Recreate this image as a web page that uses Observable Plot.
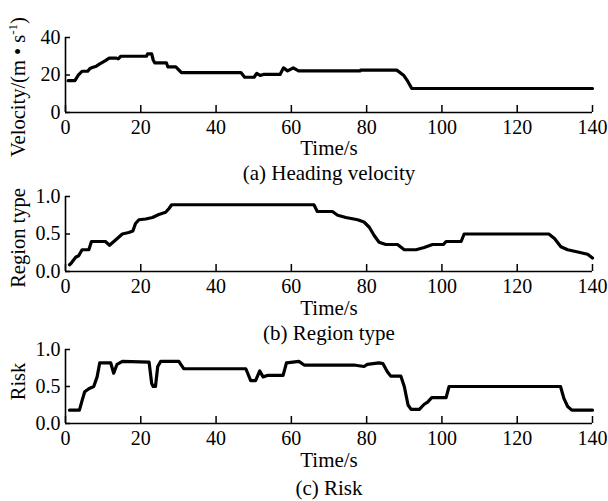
<!DOCTYPE html>
<html>
<head>
<meta charset="utf-8">
<script src="https://cdn.jsdelivr.net/npm/d3@7"></script>
<script src="https://cdn.jsdelivr.net/npm/@observablehq/plot@0.6"></script>
<style>
  html, body { margin: 0; padding: 0; background: #fff; }
  #wrap { position: relative; width: 608px; height: 501px; overflow: hidden; background: #fff; }
  #wrap > svg { position: absolute; left: 0; }
</style>
</head>
<body>
<div id="wrap"></div>
<script>
// ---- tick labels ----
const xTicks = [0, 20, 40, 60, 80, 100, 120, 140];
const velocityTicks = [0, 20, 40];
const unitTicks = [0, 0.5, 1.0];

// ---- (a) heading velocity ----
const velocityTime = [0.7, 2.5, 3.4, 4.4, 5.9, 6.5, 7.1, 8.2, 9.1, 10.5, 11.6, 13.5, 14.0, 14.7, 21.5, 21.8, 22.9, 23.3, 23.7, 26.8, 27.2, 29.3, 30.8, 46.6, 47.6, 50.1, 50.8, 51.7, 52.6, 57.0, 57.9, 59.0, 60.5, 61.9, 78.3, 78.4, 88.0, 89.8, 90.9, 92.0, 140];
const velocityValue = [17, 17, 19.9, 22, 22, 23.5, 24, 24.7, 25.9, 27.5, 29, 29, 28.6, 30, 30, 31.3, 31.3, 28, 26.5, 26.5, 24.3, 24.3, 21.3, 21.3, 18.8, 18.8, 20.9, 19.8, 20.3, 20.3, 23.8, 22.2, 23.8, 22.2, 22.2, 22.6, 22.6, 19.9, 16.7, 12.8, 12.8];

// ---- (b) region type ----
const regionTime = [1.06, 1.5, 2.7, 3.5, 4.4, 6.2, 6.9, 10.6, 11.7, 13.3, 15.1, 16.8, 17.9, 18.6, 19.5, 21.3, 23.1, 24.8, 26.6, 27.5, 28.2, 66.0, 66.9, 70.9, 72.3, 74.5, 77.6, 79.3, 80.7, 82.0, 83.3, 85.1, 88.2, 90.0, 93.1, 95.3, 97.5, 100.4, 101.1, 105.1, 105.9, 128.4, 129.9, 131.6, 133.4, 136.1, 138.7, 140];
const regionValue = [0.09, 0.11, 0.19, 0.21, 0.29, 0.29, 0.40, 0.40, 0.35, 0.42, 0.50, 0.52, 0.54, 0.64, 0.69, 0.70, 0.72, 0.76, 0.79, 0.84, 0.89, 0.89, 0.80, 0.80, 0.75, 0.72, 0.69, 0.66, 0.59, 0.48, 0.39, 0.36, 0.36, 0.29, 0.29, 0.32, 0.36, 0.36, 0.40, 0.40, 0.50, 0.50, 0.44, 0.33, 0.29, 0.26, 0.23, 0.18];

// ---- (c) risk ----
const riskTime = [1.06, 3.7, 4.4, 5.1, 6.2, 7.5, 8.4, 9.1, 12.0, 12.8, 13.7, 15.1, 22.2, 22.9, 23.3, 23.9, 24.5, 25.3, 30.1, 31.4, 47.9, 49.2, 50.5, 51.6, 52.5, 53.6, 57.8, 58.7, 60.4, 62.0, 63.4, 76.6, 79.3, 80.2, 83.3, 84.3, 85.5, 86.4, 89.1, 90.0, 91.0, 91.8, 94.0, 95.3, 96.2, 97.3, 101.1, 101.9, 131.5, 132.4, 133.4, 134.5, 140];
const riskValue = [0.18, 0.18, 0.31, 0.43, 0.47, 0.50, 0.63, 0.82, 0.82, 0.68, 0.80, 0.84, 0.83, 0.54, 0.50, 0.50, 0.77, 0.84, 0.84, 0.74, 0.74, 0.58, 0.58, 0.71, 0.63, 0.65, 0.65, 0.82, 0.83, 0.84, 0.79, 0.79, 0.77, 0.80, 0.82, 0.81, 0.70, 0.64, 0.64, 0.50, 0.25, 0.19, 0.19, 0.26, 0.29, 0.35, 0.35, 0.50, 0.50, 0.34, 0.23, 0.18, 0.18];

const FONT = "'Liberation Serif', 'Times New Roman', serif";
const W = 608, ML = 65, MR = 16, MT = 20;

function panel({time, value, yDomain, yTicks, tickFormat, yLabel, yLabelDy, caption, plotH, top, xLabelDy, captionDy}) {
  const data = time.map((t, i) => ({t, v: value[i]}));
  const MB = 72;
  const H = MT + plotH + MB;
  const plotW = W - ML - MR;
  const svg = Plot.plot({
    width: W, height: H,
    marginLeft: ML, marginRight: MR, marginTop: MT, marginBottom: MB,
    style: {fontFamily: FONT, fontSize: "20px", background: "transparent", color: "#000", overflow: "visible"},
    x: {domain: [0, 140]},
    y: {domain: yDomain},
    marks: [
      Plot.axisX({ticks: xTicks, tickSize: 0, tickPadding: 7, fontSize: 20, label: null, tickFormat: d3.format("d")}),
      Plot.axisY({ticks: yTicks, tickSize: 0, tickPadding: 5, fontSize: 20, label: null, tickFormat}),
      Plot.tickX(xTicks, {x: d => d, insetTop: plotH - 7, stroke: "#000", strokeWidth: 1.5}),
      Plot.tickY(yTicks, {y: d => d, insetRight: plotW - 5, stroke: "#000", strokeWidth: 1.5}),
      Plot.ruleY([yDomain[0]], {stroke: "#000", strokeWidth: 1.6}),
      Plot.ruleX([0], {stroke: "#000", strokeWidth: 1.6}),
      Plot.line(data, {x: "t", y: "v", stroke: "#000", strokeWidth: 3.2, strokeLinejoin: "round"}),
      Plot.text([yLabel], {frameAnchor: "left", dx: -47, dy: yLabelDy, rotate: -90, fontSize: 20.5, textAnchor: "middle", lineAnchor: "middle", fill: "#000"}),
      Plot.text(["Time/s"], {frameAnchor: "bottom", dy: xLabelDy, fontSize: 21, lineAnchor: "middle", fill: "#000"}),
      Plot.text([caption], {frameAnchor: "bottom", dy: captionDy, fontSize: 21, lineAnchor: "middle", fill: "#000"})
    ]
  });
  svg.style.top = (top - MT) + "px";
  document.getElementById("wrap").appendChild(svg);
  return svg;
}

const velLabel = "Velocity/(m • s-1)";
const svgA = panel({time: velocityTime, value: velocityValue, yDomain: [0, 40], yTicks: velocityTicks, tickFormat: d3.format("d"),
  yLabel: velLabel, yLabelDy: 12, caption: "(a) Heading velocity", plotH: 75, top: 37, xLabelDy: 36, captionDy: 61});
panel({time: regionTime, value: regionValue, yDomain: [0, 1], yTicks: unitTicks, tickFormat: d3.format(".1f"),
  yLabel: "Region type", yLabelDy: 4, caption: "(b) Region type", plotH: 75, top: 196, xLabelDy: 37, captionDy: 62});
panel({time: riskTime, value: riskValue, yDomain: [0, 1], yTicks: unitTicks, tickFormat: d3.format(".1f"),
  yLabel: "Risk", yLabelDy: -5, caption: "(c) Risk", plotH: 74, top: 349, xLabelDy: 37, captionDy: 65});

// superscript for the unit s^-1
svgA.querySelectorAll("text").forEach(t => {
  if (t.textContent === velLabel) {
    t.textContent = "";
    const ns = "http://www.w3.org/2000/svg";
    const a = document.createElementNS(ns, "tspan"); a.textContent = "Velocity/(m • s";
    const b = document.createElementNS(ns, "tspan"); b.textContent = "-1"; b.setAttribute("font-size", "13"); b.setAttribute("dy", "-8");
    const c = document.createElementNS(ns, "tspan"); c.textContent = ")"; c.setAttribute("dy", "8");
    t.append(a, b, c);
  }
});
</script>
</body>
</html>
